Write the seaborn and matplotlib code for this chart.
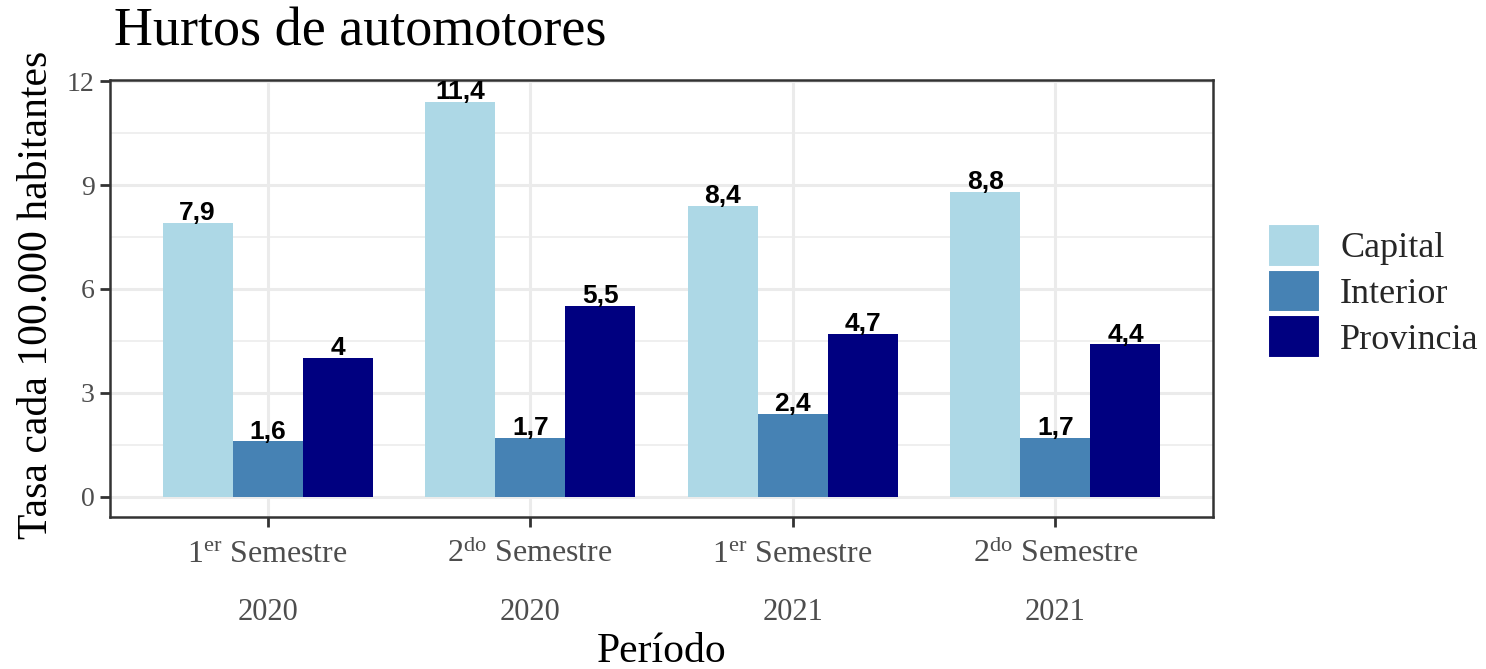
import matplotlib
matplotlib.use("Agg")
import matplotlib.pyplot as plt
import seaborn as sns
import pandas as pd
from matplotlib.ticker import MultipleLocator

periodos = ["1S2020", "2S2020", "1S2021", "2S2021"]
semestres = ["1$^{\\mathrm{er}}$ Semestre", "2$^{\\mathrm{do}}$ Semestre",
             "1$^{\\mathrm{er}}$ Semestre", "2$^{\\mathrm{do}}$ Semestre"]
anios = ["2020", "2020", "2021", "2021"]
regiones = ["Capital", "Interior", "Provincia"]
capital = [7.9, 11.4, 8.4, 8.8]
interior = [1.6, 1.7, 2.4, 1.7]
provincia = [4.0, 5.5, 4.7, 4.4]
colores = ["#ADD8E6", "#4682B4", "#000080"]

df = pd.DataFrame({
    "periodo": periodos * 3,
    "region": [r for r in regiones for _ in periodos],
    "tasa": capital + interior + provincia,
})

sns.set_theme(style="white")
serif = "Liberation Serif"
plt.rcParams["font.family"] = [serif, "DejaVu Serif"]
plt.rcParams["mathtext.fontset"] = "custom"
plt.rcParams["mathtext.rm"] = serif
plt.rcParams["mathtext.it"] = serif + ":italic"
plt.rcParams["mathtext.bf"] = serif + ":bold"

W, H = 1486, 669
fig = plt.figure(figsize=(W / 100, H / 100), dpi=100)
ax = fig.add_axes([110 / W, 1 - 517 / H, (1213 - 110) / W, (517 - 80) / H])

sns.barplot(data=df, x="periodo", y="tasa", hue="region", order=periodos,
            hue_order=regiones, palette=colores, width=0.8, saturation=1,
            edgecolor="none", linewidth=0, ax=ax, zorder=3)

def fmt(v):
    s = f"{v:.1f}".replace(".", ",")
    return s[:-2] if s.endswith(",0") else s

for cont in ax.containers:
    ax.bar_label(cont, labels=[fmt(b.get_height()) for b in cont], padding=-1.5,
                 fontsize=19, fontweight="bold", family="Liberation Sans",
                 color="black", zorder=4)

ax.set_xlim(-0.6, 3.6)
ax.set_ylim(-0.58, 12.03)
ax.yaxis.set_major_locator(MultipleLocator(3))
ax.yaxis.set_minor_locator(MultipleLocator(1.5))
ax.grid(True, which="major", color="#EBEBEB", linewidth=2.2, zorder=0)
ax.grid(True, which="minor", axis="y", color="#EBEBEB", linewidth=1.1, zorder=0)
ax.set_axisbelow(True)

ax.set_xticks(range(len(periodos)))
ax.set_xticklabels([""] * len(periodos))
ax.tick_params(axis="both", which="major", length=7, width=2, color="#333333",
               labelsize=20, labelcolor="#4D4D4D", left=True, bottom=True, pad=4)
ax.tick_params(axis="y", which="minor", length=0)
for s in ax.spines.values():
    s.set_visible(True)
    s.set_color("#333333")
    s.set_linewidth(1.8)

# two-line period labels under each group
for i, (sem, anio) in enumerate(zip(semestres, anios)):
    ax.annotate(sem, xy=(i, 0), xycoords=("data", "axes fraction"),
                xytext=(0, -(562 - 517) * 0.72), textcoords="offset points",
                ha="center", va="baseline", fontsize=23, color="#4D4D4D")
    ax.annotate(anio, xy=(i, 0), xycoords=("data", "axes fraction"),
                xytext=(0, -(620 - 517) * 0.72), textcoords="offset points",
                ha="center", va="baseline", fontsize=22, color="#4D4D4D")

ax.set_xlabel("")
ax.set_ylabel("")
fig.text(37 / W, 1 - 295 / H, "Tasa cada 100.000 habitantes", rotation=90,
         ha="center", va="center", fontsize=30, color="black")
fig.text(662 / W, 1 - 662 / H, "Período", ha="center", va="baseline",
         fontsize=30, color="black")
fig.text(114 / W, 1 - 45 / H, "Hurtos de automotores", ha="left",
         va="baseline", fontsize=39, color="black")

handles, labels = ax.get_legend_handles_labels()
if ax.legend_:
    ax.legend_.remove()
for h in handles:
    h.set_edgecolor("white")
    h.set_linewidth(1.5)
fig.legend(handles, labels, loc="upper left",
           bbox_to_anchor=(1266 / W, 1 - 222 / H), frameon=False,
           fontsize=26, handlelength=1.45, handleheight=1.45,
           labelspacing=0.08, handletextpad=0.55, borderaxespad=0,
           borderpad=0.05)

fig.savefig("out.png", dpi=100, facecolor="white")
